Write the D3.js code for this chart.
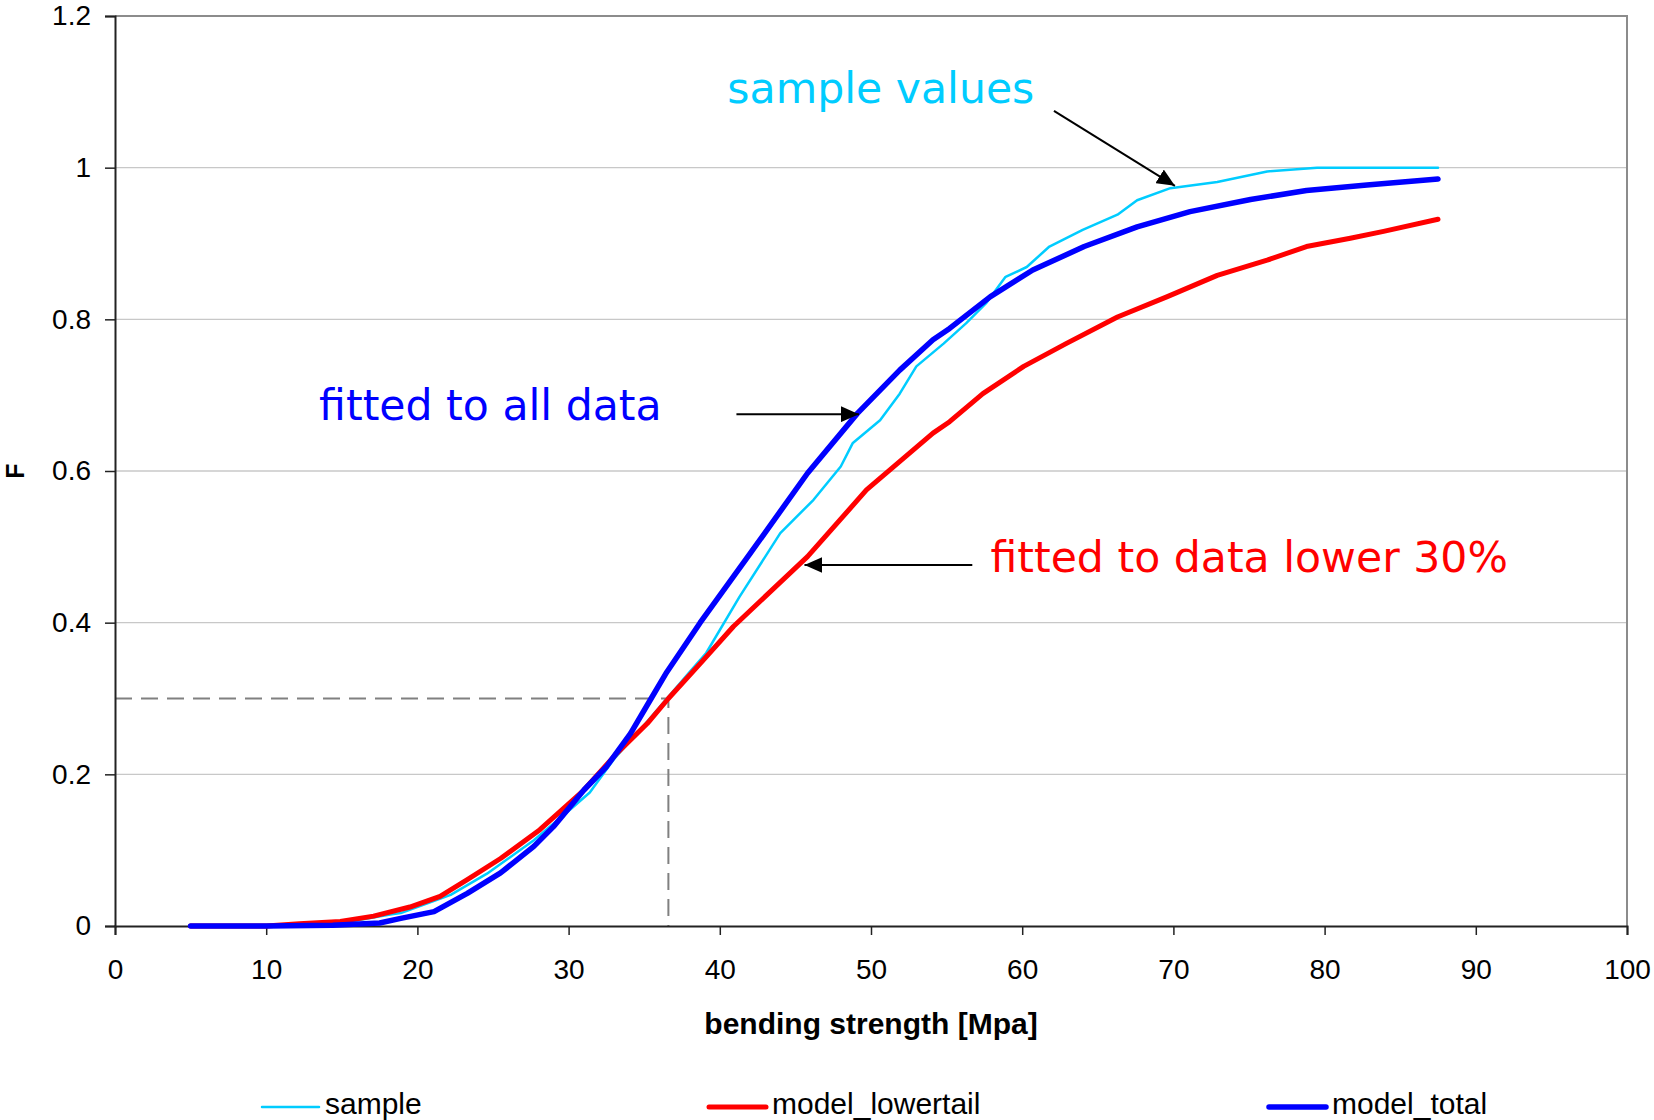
<!DOCTYPE html>
<html>
<head>
<meta charset="utf-8">
<script src="https://cdn.jsdelivr.net/npm/d3@7"></script>
<style>
  html, body { margin: 0; padding: 0; background: #fff; }
  svg { display: block; }
</style>
</head>
<body>
<div id="chart"></div>
<script>
const width = 1654, height = 1120;
const margin = { top: 16, right: 27, bottom: 194, left: 115 };

// axis ticks
const xTicks = [0, 10, 20, 30, 40, 50, 60, 70, 80, 90, 100];
const yTicks = [0, 0.2, 0.4, 0.6, 0.8, 1, 1.2];

const sampleX = [5, 12, 15, 18.2, 18.9, 22.2, 24.6, 27.7, 30.3, 31.4, 33, 35, 36.5, 38, 39.1, 41.3, 44.0, 46.2, 48.0, 48.8, 50.6, 51.9, 53.0, 54.8, 56.3, 57.6, 58.9, 60.3, 61.8, 64.0, 66.3, 67.6, 69.8, 72.9, 76.2, 79.5, 87.5];
const sampleF = [0, 0.001, 0.004, 0.015, 0.017, 0.041, 0.069, 0.113, 0.157, 0.176, 0.22, 0.265, 0.3, 0.335, 0.36, 0.434, 0.518, 0.562, 0.606, 0.637, 0.667, 0.702, 0.738, 0.768, 0.795, 0.821, 0.856, 0.869, 0.896, 0.918, 0.938, 0.957, 0.973, 0.981, 0.995, 1.0, 1.0];

// model fitted to the lower 30% of the data
const lowerX = [5, 10, 12.2, 14.9, 17.1, 19.5, 21.5, 23.3, 25.5, 28.1, 31.0, 33.2, 35.2, 36.6, 38.7, 40.9, 45.8, 49.7, 54.1, 55.2, 57.4, 60.1, 62.9, 66.3, 69.6, 72.9, 76.2, 78.8, 81.7, 83.9, 87.5];
const lowerF = [0, 0, 0.003, 0.006, 0.013, 0.025, 0.039, 0.061, 0.089, 0.127, 0.179, 0.228, 0.267, 0.3, 0.346, 0.395, 0.487, 0.575, 0.65, 0.665, 0.702, 0.738, 0.768, 0.803, 0.83, 0.858, 0.878, 0.896, 0.907, 0.916, 0.932];

// model fitted to all data
const totalX = [5, 10, 14.4, 17.5, 18.9, 21.1, 23.3, 25.5, 27.7, 29.0, 31.0, 32.5, 34.1, 35.4, 36.5, 38.7, 42.0, 45.8, 49.1, 51.9, 54.1, 55.2, 57.9, 60.7, 64.1, 67.6, 71.1, 75.1, 78.8, 82.8, 87.5];
const totalF = [0, 0, 0.001, 0.004, 0.01, 0.019, 0.043, 0.07, 0.105, 0.131, 0.179, 0.21, 0.254, 0.298, 0.335, 0.4, 0.491, 0.597, 0.676, 0.733, 0.773, 0.788, 0.83, 0.865, 0.896, 0.922, 0.942, 0.958, 0.97, 0.977, 0.985];

const seriesNames = ["sample", "model_lowertail", "model_total"];
const seriesColors = ["#00ccff", "#ff0000", "#0000ff"];
const seriesWidths = [2.5, 5, 5.5];

// 30% quantile guide
const guideX = 36.6, guideF = 0.3;

// annotations, in data units
const noteTexts = ["sample values", "fitted to all data", "fitted to data lower 30%"];
const noteColors = ["#00ccff", "#0000ff", "#ff0000"];
const noteAt = [[40.5, 1.085], [13.5, 0.667], [57.9, 0.467]];
const arrowFrom = [[62.1, 1.075], [41.1, 0.675], [56.7, 0.476]];
const arrowTo = [[70.1, 0.976], [49.2, 0.675], [45.6, 0.476]];

const svg = d3.select("#chart").append("svg")
  .attr("width", width)
  .attr("height", height);

const x = d3.scaleLinear([0, 100], [margin.left, width - margin.right]);
const y = d3.scaleLinear([0, 1.2], [height - margin.bottom, margin.top]);

const axisFont = "'Liberation Sans', Arial, sans-serif";
const noteFont = "'DejaVu Sans', Verdana, sans-serif";

// gridlines
svg.append("g")
  .selectAll("line")
  .data(yTicks.filter(d => d > 0 && d < 1.2))
  .join("line")
  .attr("x1", x(0)).attr("x2", x(100))
  .attr("y1", d => y(d)).attr("y2", d => y(d))
  .attr("stroke", "#c8c8c8")
  .attr("stroke-width", 1.3);

// plot frame (top and right)
svg.append("path")
  .attr("d", `M${x(0)},${y(1.2)}H${x(100)}V${y(0)}`)
  .attr("fill", "none")
  .attr("stroke", "#8c8c8c")
  .attr("stroke-width", 2);

// dashed guides at F = 0.3
svg.append("path")
  .attr("d", `M${x(0)},${y(guideF)}H${x(guideX)}V${y(0)}`)
  .attr("fill", "none")
  .attr("stroke", "#808080")
  .attr("stroke-width", 2)
  .attr("stroke-dasharray", "17,9");

// axes
const yAxis = svg.append("g")
  .attr("transform", `translate(${x(0)},0)`)
  .call(d3.axisLeft(y).tickValues(yTicks).tickFormat(d3.format("~g")).tickSize(10).tickPadding(14));

const xAxis = svg.append("g")
  .attr("transform", `translate(0,${y(0)})`)
  .call(d3.axisBottom(x).tickValues(xTicks).tickFormat(d3.format("d")).tickSize(9));

xAxis.selectAll("text").attr("y", 53).attr("dy", null);

[yAxis, xAxis].forEach(g => {
  g.select(".domain").attr("stroke", "#222").attr("stroke-width", 2);
  g.selectAll(".tick line").attr("stroke", "#222").attr("stroke-width", 1.5);
  g.selectAll("text")
    .attr("fill", "#000")
    .style("font-family", axisFont)
    .style("font-size", "28px");
});

// series
const line = d3.line().x(d => x(d[0])).y(d => y(d[1]));
const seriesData = [
  d3.zip(sampleX, sampleF),
  d3.zip(lowerX, lowerF),
  d3.zip(totalX, totalF)
];

svg.append("g")
  .selectAll("path")
  .data(seriesData)
  .join("path")
  .attr("d", line)
  .attr("fill", "none")
  .attr("stroke", (d, i) => seriesColors[i])
  .attr("stroke-width", (d, i) => seriesWidths[i])
  .attr("stroke-linejoin", "round")
  .attr("stroke-linecap", "round");

// axis titles
svg.append("text")
  .attr("x", (x(0) + x(100)) / 2)
  .attr("y", 1034)
  .attr("text-anchor", "middle")
  .style("font-family", axisFont)
  .style("font-size", "30px")
  .style("font-weight", "bold")
  .text("bending strength [Mpa]");

svg.append("text")
  .attr("transform", `translate(24,${(y(0) + y(1.2)) / 2}) rotate(-90)`)
  .attr("text-anchor", "middle")
  .style("font-family", axisFont)
  .style("font-size", "25px")
  .style("font-weight", "bold")
  .text("F");

// annotations
svg.append("defs").append("marker")
  .attr("id", "arrowhead")
  .attr("viewBox", "0 0 18 16")
  .attr("refX", 18).attr("refY", 8)
  .attr("markerWidth", 18).attr("markerHeight", 16)
  .attr("markerUnits", "userSpaceOnUse")
  .attr("orient", "auto")
  .append("path")
  .attr("d", "M0,0L18,8L0,16Z")
  .attr("fill", "#000");

svg.append("g")
  .selectAll("line")
  .data(arrowFrom)
  .join("line")
  .attr("x1", d => x(d[0])).attr("y1", d => y(d[1]))
  .attr("x2", (d, i) => x(arrowTo[i][0])).attr("y2", (d, i) => y(arrowTo[i][1]))
  .attr("stroke", "#000")
  .attr("stroke-width", 2)
  .attr("marker-end", "url(#arrowhead)");

svg.append("g")
  .selectAll("text")
  .data(noteTexts)
  .join("text")
  .attr("x", (d, i) => x(noteAt[i][0]))
  .attr("y", (d, i) => y(noteAt[i][1]))
  .attr("fill", (d, i) => noteColors[i])
  .style("font-family", noteFont)
  .style("font-size", "42.6px")
  .text(d => d);

// legend
const legendX = [262, 709, 1269];
const legend = svg.append("g")
  .selectAll("g")
  .data(seriesNames)
  .join("g")
  .attr("transform", (d, i) => `translate(${legendX[i]},1107)`);

legend.append("line")
  .attr("x1", 0).attr("x2", 57)
  .attr("stroke", (d, i) => seriesColors[i])
  .attr("stroke-width", (d, i) => seriesWidths[i])
  .attr("stroke-linecap", "round");

legend.append("text")
  .attr("x", 63)
  .attr("y", 7)
  .style("font-family", axisFont)
  .style("font-size", "30px")
  .text(d => d);
</script>
</body>
</html>
